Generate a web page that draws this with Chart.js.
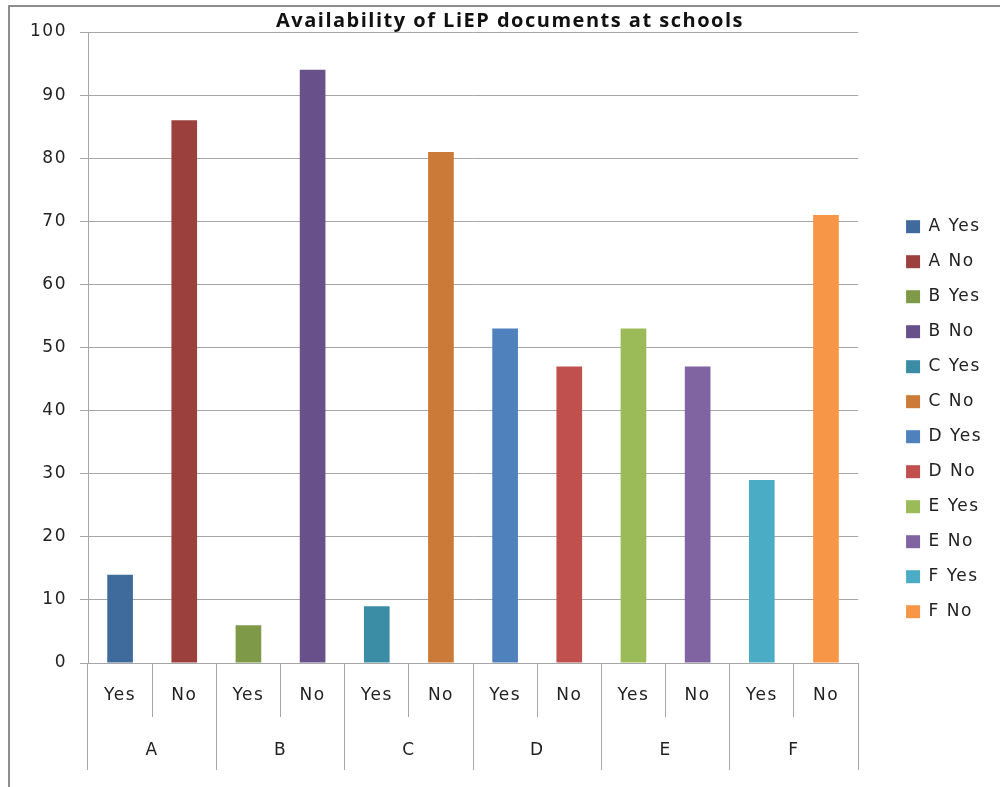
<!DOCTYPE html>
<html>
<head>
	<title>Availability of LiEP documents at schools</title>
	<script src="https://cdn.jsdelivr.net/npm/chart.js@4"></script>
</head>
<body>
	<div id="frame"></div>
	<canvas id="chart" width="1000" height="787"></canvas>

	<style type="text/css">
		body {
			margin: 0;
			padding: 0;
			background: #fff;
		}
		#chart {
			position: absolute;
			left: 0;
			top: 0;
		}
		#frame {
			position: absolute;
			left: 8px;
			top: 5px;
			width: 992px;
			height: 782px;
			border-left: 2px solid #8c8c8c;
			border-top: 2px solid #8c8c8c;
			pointer-events: none;
			z-index: 2;
		}
	</style>

	<script>
		// data
		var schools = ['A', 'B', 'C', 'D', 'E', 'F'];
		var answers = ['Yes', 'No'];
		var seriesNames = ['A Yes', 'A No', 'B Yes', 'B No', 'C Yes', 'C No',
			'D Yes', 'D No', 'E Yes', 'E No', 'F Yes', 'F No'];
		var seriesValues = [14, 86, 6, 94, 9, 81, 53, 47, 53, 47, 29, 71];
		var seriesColors = ['#3f6a9c', '#9c403d', '#7e9a48', '#68508a', '#3b8da6', '#cc7a37',
			'#4f81bd', '#c0504d', '#9bbb59', '#8064a2', '#4bacc6', '#f79646'];

		var gridColor = '#a6a6a6';
		var textColor = '#222';
		var tickFont = { family: 'DejaVu Sans', size: 17 };

		// one sub label (Yes / No) per bar
		var subLabels = [];
		schools.forEach(function () { subLabels = subLabels.concat(answers); });

		// every series only has a value in its own slot
		var datasets = seriesNames.map(function (name, i) {
			return {
				label: name,
				data: seriesValues.map(function (v, j) { return j === i ? v : null; }),
				backgroundColor: seriesColors[i],
				borderWidth: 0,
				barPercentage: 0.4,
				categoryPercentage: 1
			};
		});

		// the original text is drawn wide, so space the letters a bit
		var wideText = {
			id: 'wideText',
			beforeUpdate: function (c) { c.ctx.letterSpacing = '1.5px'; },
			beforeDraw: function (c) { c.ctx.letterSpacing = '1.5px'; }
		};

		var ctx = document.getElementById('chart').getContext('2d');
		var chart = new Chart(ctx, {
			type: 'bar',
			data: {
				labels: subLabels,
				datasets: datasets
			},
			plugins: [wideText],
			options: {
				responsive: false,
				animation: false,
				devicePixelRatio: 1,
				layout: {
					padding: { top: 3, left: 28, right: 8, bottom: 17 }
				},
				plugins: {
					title: {
						display: true,
						text: 'Availability of LiEP documents at schools',
						color: '#111',
						font: { family: 'Open Sans', size: 20, weight: 'bold', lineHeight: 1.1 },
						padding: { top: 7, bottom: 0 }
					},
					legend: {
						position: 'right',
						align: 'center',
						title: {
							display: true,
							text: '',
							font: { size: 17 },
							padding: { top: 45, bottom: 0 }
						},
						labels: {
							boxWidth: 14,
							boxHeight: 13,
							padding: 18,
							color: textColor,
							font: tickFont
						}
					},
					tooltip: { enabled: false }
				},
				scales: {
					x: {
						type: 'category',
						stacked: true,
						offset: true,
						grid: { offset: true, drawOnChartArea: false, tickLength: 54, color: gridColor },
						border: { display: true, color: gridColor },
						ticks: { padding: -32, maxRotation: 0, autoSkip: false, color: textColor, font: tickFont },
						afterFit: function (s) { s.height = 54; }
					},
					x2: {
						type: 'category',
						position: 'bottom',
						labels: schools,
						offset: true,
						grid: { offset: true, drawOnChartArea: false, tickLength: 53, color: gridColor },
						border: { display: false },
						ticks: { padding: -30, maxRotation: 0, autoSkip: false, color: textColor, font: tickFont },
						afterFit: function (s) { s.height = 53; }
					},
					y: {
						stacked: true,
						min: 0,
						max: 100,
						ticks: { stepSize: 10, padding: 13, color: textColor, font: tickFont },
						grid: { color: gridColor, tickLength: 8 },
						border: { color: gridColor },
						afterFit: function (s) { s.width = 60; }
					},
					gap: {
						type: 'linear',
						position: 'right',
						grid: { display: false },
						ticks: { display: false },
						border: { display: false },
						afterFit: function (s) { s.width = 30; }
					}
				}
			}
		});
	</script>
</body>
</html>
